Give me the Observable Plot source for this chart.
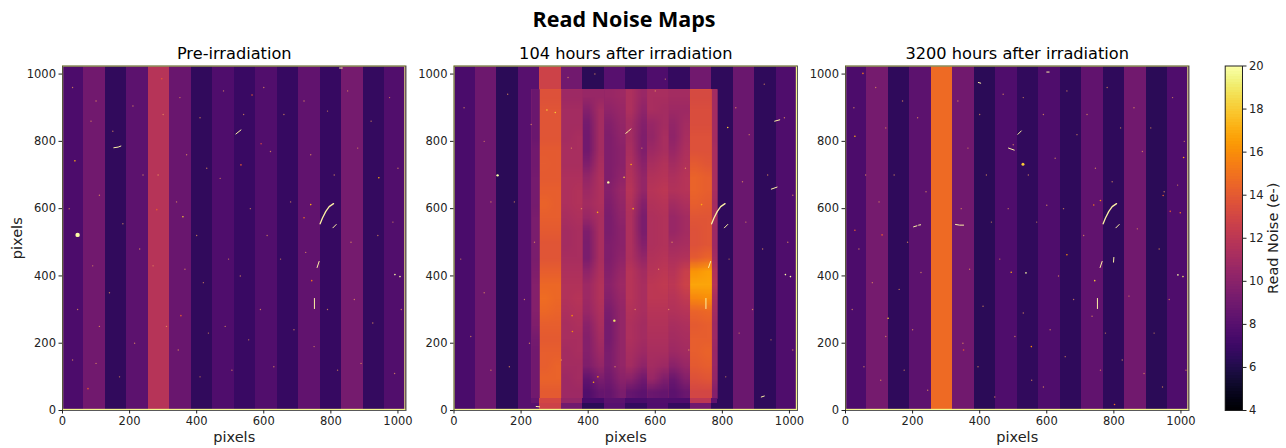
<!DOCTYPE html>
<html><head><meta charset="utf-8">
<script src="https://cdn.jsdelivr.net/npm/d3@7"></script>
<script src="https://cdn.jsdelivr.net/npm/@observablehq/plot@0.6"></script>
<style>
html,body{margin:0;padding:0;background:#fff;width:1286px;height:448px;overflow:hidden;font-family:"DejaVu Sans",sans-serif;}
#root{position:relative;width:1286px;height:448px;}
#root>div.p{position:absolute;top:0;}
#t{position:absolute;left:424px;width:400px;top:4px;text-align:center;font:700 21.5px "Open Sans",sans-serif;color:#000;}
svg{overflow:visible;background:none !important;}
</style></head><body><div id="root"><div id="t">Read Noise Maps</div></div>
<script>
const channelWidth = 64;
const preChannels  = [7.6,9.0,6.6,8.2,11.8,8.7,6.6,7.7,6.9,7.8,6.8,8.4,6.8,9.2,6.7,7.8];
const midChannels  = [7.5,8.9,6.4,8.0,12.8,9.0,6.4,8.0,6.7,7.7,6.7,9.0,6.5,8.8,6.5,7.7];
const postChannels = [7.6,9.2,6.5,8.2,14.7,9.0,6.4,7.7,6.6,7.7,6.5,8.4,6.5,9.0,6.4,7.7];

const patchColumns = [232,256,320,384,448,512,576,640,704,769,786];
const patchTop = 955, patchMid = 35, patchBottom = 20;
// one row per 40 px band, top to bottom; pairs of numbers are the two halves of each channel
const stripCol = [8.8,8.8,8.8,8.8,9,9,9.2,9.2,9.2,9.4,9.4,9.4,9.4,9.6,9.8,9.8,9.8,9.6,9.2,9,9,9,9];
const ch4Cols = [[13.6,13.6],[13.8,13.8],[13.8,13.8],[13.8,13.8],[14,14],[14.1,14],[14,14],[14.2,14.2],[14.4,14.2],[14.2,14.2],[14,14],[13.8,13.8],[13.8,13.8],[14.2,14.2],[14.6,14.6],[14.8,14.6],[14.6,14.4],[14.2,14.2],[14,14],[14.2,14.2],[14.2,14.4],[14.4,14.4],[14,14]];
const ch5Cols = [[10.8,10.8],[11,11],[11,11],[11,11.2],[11.2,11.2],[11.2,11.2],[11.4,11.4],[11.4,11.6],[11.4,11.6],[11.2,11.4],[11,11.2],[11,11.2],[11.2,11.2],[11.4,11.4],[11.6,11.6],[11.6,11.8],[11.4,11.6],[11.2,11.4],[11.2,11.2],[11,11.2],[11,11],[10.8,11],[10.8,10.8]];
const ch6Cols = [[10.5,10.5],[9.8,11],[9.2,11],[9,11],[9,11],[9.6,11.2],[10.4,11.4],[10.8,11.4],[11,11.4],[10.6,11.2],[9.6,11.2],[9.4,11.2],[9.4,11.2],[10.2,11.4],[10.8,11.6],[10.8,11.6],[10.6,11.4],[10,11.2],[9.8,11],[9.8,10.8],[9.6,10.4],[8.4,9.4],[7.8,8.6]];
const ch7Cols = [[10.6,10.8],[10.2,10.6],[9.8,10.4],[9.6,10.2],[9.6,10],[9.6,10],[9.6,10.2],[9.8,10.6],[9.6,10.4],[9.4,10.2],[9.4,10],[9.6,10],[9.6,10.2],[9.8,10.6],[10,10.8],[9.8,10.6],[9.4,10.4],[9.2,10.4],[9.2,10.4],[9.4,10.4],[9.4,10.4],[9,10],[8.6,9.4]];
const ch8Cols = [[11.4,10.6],[11.4,10.2],[11,9.8],[11,9.6],[11.2,9.6],[11.4,10],[11.6,10.4],[11.8,10.4],[11.6,9.8],[11.4,9.4],[11.4,9.4],[11.4,9.8],[11.4,10.4],[11.8,11],[11.8,11.2],[11.8,11.2],[11.6,11.2],[11.4,11],[11.4,11],[11.2,10.8],[11,10.2],[10,9],[8.6,8.2]];
const ch9Cols = [[11.2,11.2],[11.2,11],[10.6,11],[10.4,11.2],[10.8,11.2],[11.2,11.6],[11.6,11.8],[11.8,12],[11.6,11.8],[11.4,11.6],[11.4,11.6],[11.4,11.6],[11.6,11.8],[11.8,12],[12,12.2],[12,12],[11.8,11.8],[11.6,11.6],[11.4,11.4],[11.2,11.2],[11,10.8],[10.6,9.6],[8.8,8.6]];
const ch10Cols = [[11,11],[10.8,10.8],[10.4,11],[10.2,11.2],[10.6,11.4],[11,11.6],[11.4,11.8],[11.6,11.8],[11,11.4],[10.6,11],[10.6,11],[11,11.2],[11.4,11.6],[11.8,12.6],[12,12.8],[11.8,12.2],[11.6,11.8],[11.2,11.4],[11,11.2],[10.8,11],[10,10.6],[8.8,9.8],[8.2,8.8]];
const ch11Cols = [[13.2,13.2],[13.4,13.4],[13.4,13.4],[13.6,13.6],[13.6,13.6],[14,13.8],[14.4,14.2],[14.4,14.2],[14.2,14],[13.8,13.8],[13.6,13.8],[13.6,13.8],[14,14.4],[16.2,16.6],[16.8,16.8],[15.8,16],[14.4,14.6],[14,14.2],[14.2,14.2],[14.2,14.4],[14,14.2],[13.6,13.8],[13,13]];
const ch12Col = [11,11,11,11,11.2,11.2,11.2,11.2,11,11,10.8,10.8,11,11.6,11.8,11.2,11,10.8,10.8,10.6,10.6,10.4,9.8];
const patchBottomRow = [8.6,13,10.4,7.4,8.2,7.5,7.8,7.7,12,8.4];
const channelBands = [stripCol.map(v=>[v,v]),ch4Cols,ch5Cols,ch6Cols,ch7Cols,ch8Cols,ch9Cols,ch10Cols,ch11Cols,ch12Col.map(v=>[v,v])];

const commonStreaks = [
 [[768,555],[775,572],[785,592],[795,606],[808,615]],
 [[806,543],[816,553]],
 [[759,425],[765,443]],
 [[751,303],[751,333]]
];
const preStreaks  = [[[517,822],[532,834]],[[153,781],[166,783],[174,786]],[[826,1018],[834,1018]]];
const midStreaks  = [[[512,824],[520,830],[527,837]],[[956,860],[971,864]],[[946,658],[963,664]],[[245,12],[255,11]],[[916,40],[925,43]]];
const postStreaks = [[[514,821],[524,831]],[[486,780],[503,774]],[[203,546],[213,549]],[[218,551],[224,552]],[[328,553],[340,551],[352,551]],[[799,441],[800,455]],[[396,975],[403,973]],[[600,1006],[607,1006]]];

const preSpots  = [[45,522,20,2.2],[37,742,17],[359,576,18],[740,612,17],[720,573,15],[943,692,17],[565,938,14],[592,793,13],[281,597,14],[532,730,14],[296,986,14],[353,282,14],[76,65,14],[991,404,20],[1006,398,20],[743,386,15]];
const midSpots  = [[130,699,20,1.2],[460,678,20,1.2],[507,693,18],[528,731,17],[277,893,18],[302,886,18],[428,589,17],[534,600,17],[738,612,17],[816,841,18],[988,404,20],[1003,398,20],[478,267,19,1.2],[352,282,16],[353,235,16],[416,84,17],[429,100,16]];
const postSpots = [[52,1002,15],[28,815,17],[529,732,18,1.5],[760,624,16],[740,611,15],[1008,752,17],[968,592,14],[998,588,15],[947,639,14],[109,522,14],[28,536,14],[127,274,18],[743,386,18],[538,409,20],[494,411,17],[991,403,20],[1006,398,19],[660,463,16],[352,180,14],[554,190,16],[802,18,15]];

const preSpecks = [[30,960],[100,920],[85,860],[150,830],[210,905],[240,700],[110,640],[20,600],[180,555],[230,480],[90,430],[140,350],[45,300],[110,250],[215,200],[100,140],[170,100],[30,150],[300,880],[285,700],[270,430],[310,250],[350,930],[370,760],[340,620],[365,420],[345,180],[410,870],[430,720],[400,520],[420,380],[435,230],[410,100],[480,950],[470,690],[495,450],[485,250],[505,120],[540,880],[560,600],[530,400],[555,210],[600,960],[620,770],[610,520],[590,300],[630,130],[660,880],[680,620],[650,450],[690,240],[720,920],[740,760],[725,470],[750,190],[790,890],[810,700],[790,300],[820,120],[850,950],[880,780],[860,500],[870,330],[890,140],[920,860],[940,520],[925,260],[975,930],[1000,720],[985,560],[1010,300],[990,110]];
const midSpecks = [[30,900],[90,800],[110,620],[20,450],[90,350],[50,220],[110,120],[160,940],[180,620],[210,330],[165,130],[230,850],[240,500],[225,200],[840,900],[860,680],[820,450],[850,230],[810,100],[880,820],[870,560],[890,300],[925,970],[935,700],[920,480],[945,210],[985,870],[1010,640],[995,500],[1010,180],[600,950],[630,985],[340,990],[420,1000],[350,780],[380,600],[560,780],[610,420],[650,500],[690,720],[320,150],[480,130],[540,300],[640,300],[700,180]];
const postSpecks = [[25,900],[60,700],[40,480],[20,300],[55,130],[90,960],[120,840],[100,620],[80,380],[120,220],[105,90],[170,920],[145,700],[185,500],[160,360],[175,120],[215,870],[240,650],[225,410],[200,240],[245,60],[335,920],[365,780],[345,600],[370,420],[350,200],[400,880],[420,700],[435,560],[410,310],[395,130],[445,40],[470,940],[500,790],[485,600],[460,450],[505,220],[530,930],[545,700],[570,560],[530,290],[555,90],[590,880],[625,750],[600,610],[635,400],[610,240],[590,70],[660,950],[690,820],[650,600],[680,330],[655,160],[720,880],[745,720],[710,520],[735,280],[760,120],[780,960],[820,840],[795,680],[775,230],[825,150],[860,900],[885,770],[870,540],[845,340],[890,110],[910,840],[950,650],[935,480],[920,230],[945,70],[975,930],[1010,800],[990,670],[965,330],[1015,120]];

const panels = [
 {title:"Pre-irradiation", channels:preChannels, streaks:preStreaks, spots:preSpots, specks:preSpecks, left:0, marginLeft:62, yLabel:true},
 {title:"104 hours after irradiation", channels:midChannels, streaks:midStreaks, spots:midSpots, specks:midSpecks, left:413, marginLeft:40.5, patch:true},
 {title:"3200 hours after irradiation", channels:postChannels, streaks:postStreaks, spots:postSpots, specks:postSpecks, left:805, marginLeft:40}
];
const xTicks = [0,200,400,600,800,1000];
const barTicks = [4,6,8,10,12,14,16,18,20];
const colorOpts = {type:"linear",scheme:"inferno",domain:[4,20],clamp:true};

function stripeRects(channels){ return channels.map((v,i)=>({x1:i*channelWidth,x2:(i+1)*channelWidth,y1:0,y2:1024,v})); }
function patchMarks(){
  const under = channelBands.map((rows,c)=>({x1:patchColumns[c],x2:patchColumns[c+1],y1:patchMid,y2:patchTop,v:d3.mean(rows.flat())}));
  const marks = [Plot.rect(under,{x1:"x1",x2:"x2",y1:"y1",y2:"y2",fill:"v",shapeRendering:"crispEdges"})];
  marks.push(...channelBands.map((rows,c)=>Plot.raster(rows.flat(),{
    width:2,height:rows.length,x1:patchColumns[c],x2:patchColumns[c+1],y1:patchTop,y2:patchMid,fill:d=>d,imageRendering:"auto"
  })));
  marks.push(Plot.rect(patchBottomRow.map((v,c)=>({x1:patchColumns[c],x2:patchColumns[c+1],y1:patchBottom,y2:patchMid,v})),
    {x1:"x1",x2:"x2",y1:"y1",y2:"y2",fill:"v",shapeRendering:"crispEdges"}));
  return marks;
}
const edgeValue = 19.5, edge = 3.5;
function edgeRects(){
  return [{x1:0,x2:1024,y1:1024-edge,y2:1024},{x1:0,x2:1024,y1:0,y2:edge},{x1:0,x2:edge,y1:0,y2:1024},{x1:1024-edge,x2:1024,y1:0,y2:1024}].map(d=>({...d,v:edgeValue}));
}
const root = document.getElementById("root");
for (const p of panels){
  const marks = [
    Plot.rect(stripeRects(p.channels),{x1:"x1",x2:"x2",y1:"y1",y2:"y2",fill:"v",shapeRendering:"crispEdges"})
  ];
  if (p.patch) marks.push(...patchMarks());
  marks.push(
    Plot.dot(p.specks,{x:d=>d[0],y:d=>d[1],r:0.7,fill:"#f4a15d",fillOpacity:0.7,stroke:null}),
    ...[...commonStreaks,...p.streaks].map((s,i)=>Plot.line(s,{x:d=>d[0],y:d=>d[1],stroke:"#fcf2a4",strokeWidth:i===0?1.3:1,strokeLinecap:"round"})),
    Plot.dot(p.spots,{x:d=>d[0],y:d=>d[1],r:d=>d[3]||0.8,fill:d=>d[2],stroke:null}),
    Plot.rect(edgeRects(),{x1:"x1",x2:"x2",y1:"y1",y2:"y2",fill:"v"}),
    Plot.frame({stroke:"#222",strokeWidth:1,strokeOpacity:0.75}),
    Plot.axisX({ticks:xTicks,tickSize:3.5,tickPadding:3,label:null,fontSize:11.5,tickFormat:d=>String(d)}),
    Plot.axisY({ticks:xTicks,tickSize:3.5,tickPadding:3,label:null,fontSize:11.5,tickFormat:d=>String(d)}),
    Plot.text([p.title],{frameAnchor:"top",lineAnchor:"bottom",dy:-7,fontSize:16.2,fill:"#000"}),
    Plot.text(["pixels"],{frameAnchor:"bottom",lineAnchor:"top",dy:21.5,fontSize:14.5,fill:"#222"})
  );
  if (p.yLabel) marks.push(Plot.text(["pixels"],{frameAnchor:"left",textAnchor:"middle",rotate:-90,dx:-45,fontSize:14.5,fill:"#222"}));
  const width = p.marginLeft+343.5+(p.left===805?10:8);
  const svg = Plot.plot({
    width, height:448, marginLeft:p.marginLeft, marginRight:width-p.marginLeft-343.5, marginTop:65.5, marginBottom:38,
    style:{fontFamily:"'DejaVu Sans',sans-serif",color:"#222",background:"transparent",overflow:"visible"},
    x:{domain:[0,1024]}, y:{domain:[0,1024]}, color:colorOpts, r:{type:"identity"},
    marks
  });
  const d=document.createElement("div");d.className="p";d.style.left=p.left+"px";d.appendChild(svg);root.appendChild(d);
}
const rampStep = 0.125;
const bar = Plot.plot({
  width:86, height:448, marginLeft:24.7, marginRight:44, marginTop:65.5, marginBottom:38,
  style:{fontFamily:"'DejaVu Sans',sans-serif",color:"#222",background:"transparent",overflow:"visible"},
  x:{domain:[0,1],axis:null}, y:{domain:[4,20]}, color:colorOpts,
  marks:[
    Plot.rect(d3.range(4,20,rampStep),{x1:0,x2:1,y1:d=>d,y2:d=>d+rampStep,fill:d=>d+rampStep/2,shapeRendering:"crispEdges"}),
    Plot.frame({stroke:"#222",strokeWidth:1}),
    Plot.axisY({anchor:"right",ticks:barTicks,tickSize:3.5,tickPadding:3,label:null,fontSize:11.5}),
    Plot.text(["Read Noise (e-)"],{frameAnchor:"right",textAnchor:"middle",rotate:-90,dx:30.5,fontSize:14.5,fill:"#222"})
  ]
});
const bd=document.createElement("div");bd.className="p";bd.style.left="1200px";bd.appendChild(bar);root.appendChild(bd);
</script></body></html>
